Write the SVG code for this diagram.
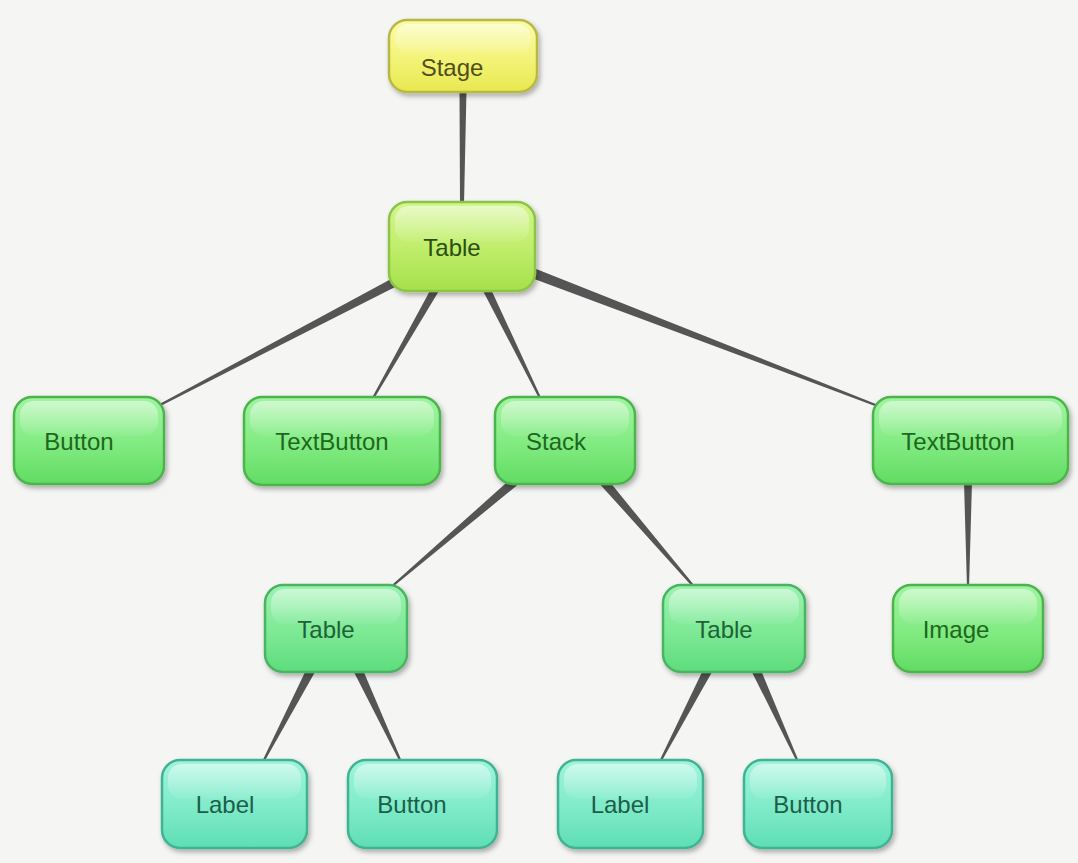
<svg xmlns="http://www.w3.org/2000/svg" width="1078" height="863" viewBox="0 0 1078 863">
<defs>
<filter id="sh" x="-20%" y="-20%" width="140%" height="150%">
<feDropShadow dx="2" dy="3" stdDeviation="2.5" flood-color="#000" flood-opacity="0.3"/>
</filter>
<linearGradient id="gY" x1="0" y1="0" x2="0" y2="1"><stop offset="0" stop-color="#fbfba8"/><stop offset="0.5" stop-color="#f4f47c"/><stop offset="1" stop-color="#e8e850"/></linearGradient>
<linearGradient id="gL" x1="0" y1="0" x2="0" y2="1"><stop offset="0" stop-color="#d4f590"/><stop offset="0.5" stop-color="#c0ee6c"/><stop offset="1" stop-color="#a6e04a"/></linearGradient>
<linearGradient id="gG" x1="0" y1="0" x2="0" y2="1"><stop offset="0" stop-color="#a0f4a0"/><stop offset="0.5" stop-color="#84ec84"/><stop offset="1" stop-color="#62dc62"/></linearGradient>
<linearGradient id="gM" x1="0" y1="0" x2="0" y2="1"><stop offset="0" stop-color="#9cf2b0"/><stop offset="0.5" stop-color="#80ea98"/><stop offset="1" stop-color="#5edc7c"/></linearGradient>
<linearGradient id="gT" x1="0" y1="0" x2="0" y2="1"><stop offset="0" stop-color="#a0f4dc"/><stop offset="0.5" stop-color="#82ecca"/><stop offset="1" stop-color="#5edeb4"/></linearGradient>
<linearGradient id="gloss" x1="0" y1="0" x2="0" y2="1"><stop offset="0" stop-color="#fff" stop-opacity="0.5"/><stop offset="1" stop-color="#fff" stop-opacity="0.05"/></linearGradient>
</defs>
<style>
.box{stroke-width:2.5;filter:url(#sh)}
.y{fill:url(#gY);stroke:#b8b844}
.l{fill:url(#gL);stroke:#8cc444}
.g{fill:url(#gG);stroke:#4cb44c}
.m{fill:url(#gM);stroke:#48b462}
.t{fill:url(#gT);stroke:#40b492}
.gl{fill:url(#gloss)}
text{font-family:"Liberation Sans",Arial,sans-serif;font-size:24px;text-anchor:middle}
.ty{fill:#4f4f1c}.tl{fill:#2c4e12}.tg{fill:#1f661f}.tm{fill:#1e6236}.tt{fill:#1c5e4a}
.e{fill:#555555}
</style>
<rect width="1078" height="863" fill="#f5f5f4"/>
<g id="connectors">
<polygon class="e" points="459.5,90 466.5,90 464,204 460,204"/>
<polygon class="e" points="397.1,286 392.9,278 159.5,404.1 160.5,405.9"/>
<polygon class="e" points="439.5,290 432.5,286 371.1,399.5 372.9,400.5"/>
<polygon class="e" points="482.4,289.8 489.6,286.2 541.9,399.6 540.1,400.4"/>
<polygon class="e" points="528.2,276.7 531.8,267.3 878.4,405.1 877.6,406.9"/>
<polygon class="e" points="516.9,485.4 511.1,478.6 389.4,587.2 390.6,588.8"/>
<polygon class="e" points="600.6,484.9 607.4,479.1 695.8,587.3 694.2,588.7"/>
<polygon class="e" points="964,482 972,482 969,588 967,588"/>
<polygon class="e" points="315,672.1 307,667.9 262.1,761.5 263.9,762.5"/>
<polygon class="e" points="353.9,671.9 362.1,668.1 401.9,761.6 400.1,762.4"/>
<polygon class="e" points="712,672.1 704,667.9 659.1,761.5 660.9,762.5"/>
<polygon class="e" points="751.9,671.9 760.1,668.1 798.9,761.6 797.1,762.4"/>
</g>
<g id="stage"><rect class="box y" x="389" y="20" width="148" height="72" rx="18"/><rect class="gl" x="395" y="24" width="136" height="30" rx="14"/><text class="ty" x="452" y="76">Stage</text></g>
<g id="table-root"><rect class="box l" x="389" y="202" width="146" height="89" rx="18"/><rect class="gl" x="395" y="206" width="134" height="36" rx="14"/><text class="tl" x="452" y="256">Table</text></g>
<g id="button1"><rect class="box g" x="14" y="397" width="150" height="87" rx="18"/><rect class="gl" x="20" y="401" width="138" height="35" rx="14"/><text class="tg" x="79" y="450">Button</text></g>
<g id="textbutton1"><rect class="box g" x="244" y="397" width="196" height="88" rx="18"/><rect class="gl" x="250" y="401" width="184" height="35" rx="14"/><text class="tg" x="332" y="450">TextButton</text></g>
<g id="stack"><rect class="box g" x="495" y="397" width="140" height="87" rx="18"/><rect class="gl" x="501" y="401" width="128" height="35" rx="14"/><text class="tg" x="556" y="450">Stack</text></g>
<g id="textbutton2"><rect class="box g" x="873" y="397" width="195" height="87" rx="18"/><rect class="gl" x="879" y="401" width="183" height="35" rx="14"/><text class="tg" x="958" y="450">TextButton</text></g>
<g id="table-left"><rect class="box m" x="265" y="585" width="142" height="87" rx="18"/><rect class="gl" x="271" y="589" width="130" height="35" rx="14"/><text class="tm" x="326" y="638">Table</text></g>
<g id="table-right"><rect class="box m" x="663" y="585" width="142" height="87" rx="18"/><rect class="gl" x="669" y="589" width="130" height="35" rx="14"/><text class="tm" x="724" y="638">Table</text></g>
<g id="image"><rect class="box g" x="893" y="585" width="150" height="87" rx="18"/><rect class="gl" x="899" y="589" width="138" height="35" rx="14"/><text class="tg" x="956" y="638">Image</text></g>
<g id="label1"><rect class="box t" x="162" y="760" width="145" height="88" rx="18"/><rect class="gl" x="168" y="764" width="133" height="35" rx="14"/><text class="tt" x="225" y="813">Label</text></g>
<g id="button2"><rect class="box t" x="348" y="760" width="149" height="88" rx="18"/><rect class="gl" x="354" y="764" width="137" height="35" rx="14"/><text class="tt" x="412" y="813">Button</text></g>
<g id="label2"><rect class="box t" x="558" y="760" width="145" height="88" rx="18"/><rect class="gl" x="564" y="764" width="133" height="35" rx="14"/><text class="tt" x="620" y="813">Label</text></g>
<g id="button3"><rect class="box t" x="744" y="760" width="148" height="88" rx="18"/><rect class="gl" x="750" y="764" width="136" height="35" rx="14"/><text class="tt" x="808" y="813">Button</text></g>
</svg>
